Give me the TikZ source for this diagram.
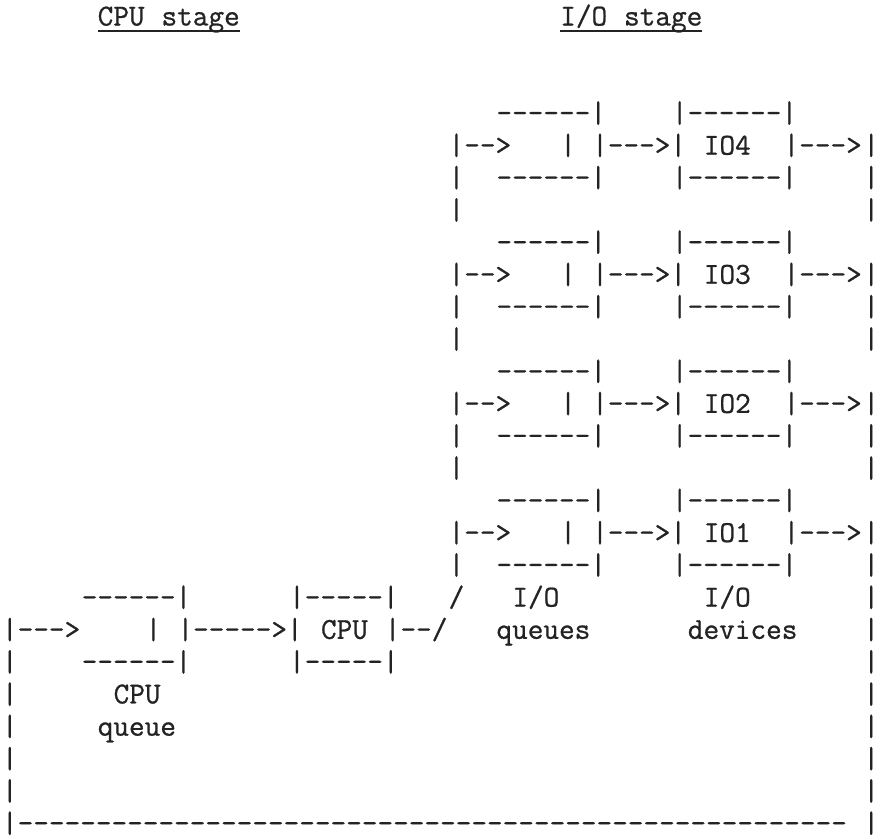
\documentclass[tikz,border=0pt]{standalone}
\usepackage{fontspec}
\newfontfamily\typew[Ligatures=TeXOff,FakeBold=0.8]{Latin Modern Mono}
\definecolor{ink}{RGB}{35,35,35}
\tikzset{
  tt/.style={font=\typew\fontsize{30.38pt}{30pt}\selectfont, inner sep=0pt, outer sep=0pt, anchor=base west, text=ink},
  ul/.style={draw=ink, line width=1.6pt}
}
\newcommand\tx[4]{\node[tt] (#1) at ({2.025+15.95*(#2)},{-(25.5+32.28*(#3))}) {#4};}
\begin{document}
\begin{tikzpicture}[x=1pt,y=1pt]
\fill[white] (0,0) rectangle (873,-835);
\useasboundingbox (0,0) rectangle (873,-835);
% titles
\tx{tcpu}{6}{0}{CPU}
\tx{tcpus}{10}{0}{stage}
\tx{tio}{35}{0}{I/O}
\tx{tios}{39}{0}{stage}
\draw[ul] ([yshift=-5.5pt]tcpu.base west) -- ([yshift=-5.5pt]tcpus.base east);
\draw[ul] ([yshift=-5.5pt]tio.base west) -- ([yshift=-5.5pt]tios.base east);
% I/O blocks
\foreach \k/\n in {0/4,1/3,2/2,3/1}{
  \pgfmathtruncatemacro\t{3+4*\k}
  \tx{qtop\k}{31}{\t}{------|}
  \tx{dtop\k}{42}{\t}{|------|}
  \tx{qin\k}{28}{\t+1}{|-->}
  \tx{qbar\k}{35}{\t+1}{|}
  \tx{qout\k}{37}{\t+1}{|--->|}
  \tx{dlab\k}{44}{\t+1}{IO\n}
  \tx{dout\k}{49}{\t+1}{|--->}
  \tx{rm\k}{54}{\t+1}{|}
  \tx{lb\k}{28}{\t+2}{|}
  \tx{qbot\k}{31}{\t+2}{------|}
  \tx{dbot\k}{42}{\t+2}{|------|}
  \tx{rb\k}{54}{\t+2}{|}
}
\foreach \k in {0,1,2}{
  \pgfmathtruncatemacro\t{6+4*\k}
  \tx{lgap\k}{28}{\t}{|}
  \tx{rgap\k}{54}{\t}{|}
}
% row 18
\tx{cqtop}{5}{18}{------|}
\tx{cputop}{18}{18}{|-----|}
\tx{sl1}{28}{18}{/}
\tx{ioq1}{32}{18}{I/O}
\tx{iod1}{44}{18}{I/O}
\tx{r18}{54}{18}{|}
% row 19
\tx{cin}{0}{19}{|--->}
\tx{cqbar}{9}{19}{|}
\tx{cqout}{11}{19}{|----->|}
\tx{cpulab}{20}{19}{CPU}
\tx{cpuout}{24}{19}{|--/}
\tx{ioq2}{31}{19}{queues}
\tx{iod2}{43}{19}{devices}
\tx{r19}{54}{19}{|}
% row 20
\tx{l20}{0}{20}{|}
\tx{cqbot}{5}{20}{------|}
\tx{cpubot}{18}{20}{|-----|}
\tx{r20}{54}{20}{|}
% rows 21-24
\tx{l21}{0}{21}{|}
\tx{cql1}{7}{21}{CPU}
\tx{r21}{54}{21}{|}
\tx{l22}{0}{22}{|}
\tx{cql2}{6}{22}{queue}
\tx{r22}{54}{22}{|}
\tx{l23}{0}{23}{|}
\tx{r23}{54}{23}{|}
\tx{l24}{0}{24}{|}
\tx{r24}{54}{24}{|}
% row 25
\tx{back}{0}{25}{|-----------------------------------------------------}
\tx{r25}{54}{25}{|}
\end{tikzpicture}
\end{document}
